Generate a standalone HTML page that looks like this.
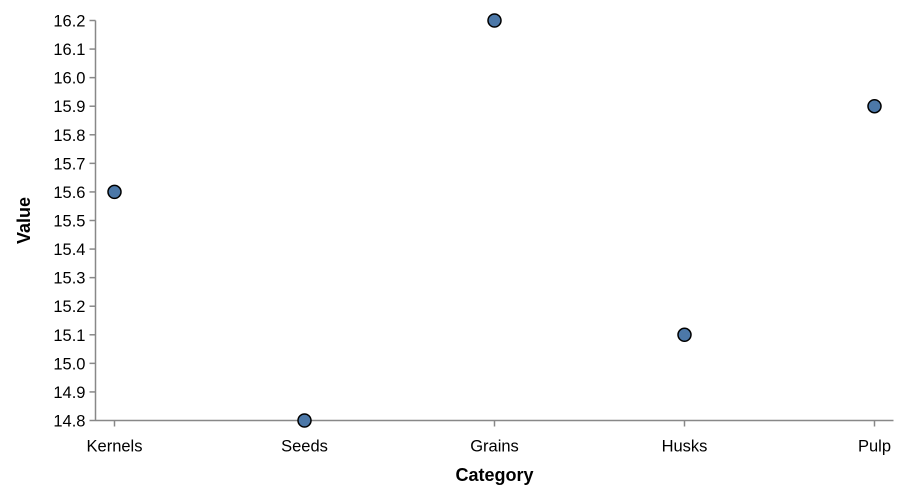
<!DOCTYPE html>
<html><head><meta charset="utf-8"><style>
body{margin:0;background:#fff;font-family:"Liberation Sans",Arial,sans-serif}
</style></head><body>
<svg id="c" width="906" height="494" xmlns="http://www.w3.org/2000/svg"></svg>
<script>
const categories=["Kernels","Seeds","Grains","Husks","Pulp"];
const values=[15.6,14.8,16.2,15.1,15.9];
const yTicks=[14.8,14.9,15.0,15.1,15.2,15.3,15.4,15.5,15.6,15.7,15.8,15.9,16.0,16.1,16.2];
const L=95.5,R=893.5,T=20.5,B=420.5,yMin=14.8,yMax=16.2;
const svg=document.getElementById('c');const NS="http://www.w3.org/2000/svg";
function mk(t,a,p){const e=document.createElementNS(NS,t);for(const k in a)e.setAttribute(k,a[k]);(p||svg).appendChild(e);return e;}
const step=(R-L)/(categories.length-1+0.2);
function x(i){return L+step*0.1+i*step;}
function y(v){return B-(v-yMin)/(yMax-yMin)*(B-T);}
const yAxis=mk('g',{});


mk('line',{x1:L,x2:L,y1:T,y2:B,stroke:'#888','stroke-width':1.5},yAxis);
yTicks.forEach(v=>{const g=mk('g',{},yAxis);


mk('line',{x1:L-6,x2:L,y1:y(v),y2:y(v),stroke:'#888','stroke-width':1.5},g);
const t=mk('text',{x:L-10,y:y(v)+6,'text-anchor':'end','font-size':'16.5',fill:'#000'},g);t.textContent=v.toFixed(1);});
const xAxis=mk('g',{});


mk('line',{x1:L,x2:R,y1:B,y2:B,stroke:'#888','stroke-width':1.5},xAxis);
categories.forEach((c,i)=>{const g=mk('g',{},xAxis);


mk('line',{x1:x(i),x2:x(i),y1:B,y2:B+6,stroke:'#888','stroke-width':1.5},g);
const t=mk('text',{x:x(i),y:B+31,'text-anchor':'middle','font-size':'16.5',fill:'#000'},g);t.textContent=c;});
const xt=mk('text',{x:(L+R)/2,y:481,'text-anchor':'middle','font-size':'18','font-weight':'bold'});xt.textContent='Category';


const yt=mk('text',{x:0,y:0,transform:`translate(30,${(T+B)/2}) rotate(-90)`,'text-anchor':'middle','font-size':'18','font-weight':'bold'});yt.textContent='Value';


values.forEach((v,i)=>{const p=mk('circle',{cx:x(i),cy:y(v),r:6.5,fill:'#4c78a8',stroke:'#000','stroke-width':1.5});

});
</script>
</body></html>
